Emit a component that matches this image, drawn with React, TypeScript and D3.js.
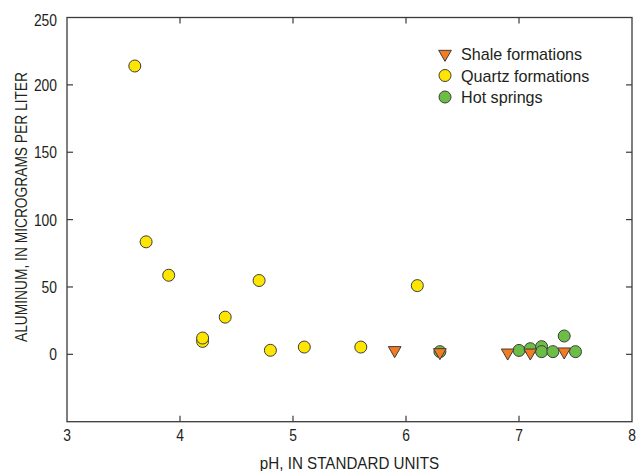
import React from 'react';
import * as d3 from 'd3';

const shalePH = [5.9, 6.3, 6.9, 7.1, 7.4];
const shaleAl = [3, 1.5, 1.2, 1.2, 2];
const quartzPH = [3.6, 3.7, 3.9, 4.2, 4.2, 4.4, 4.7, 4.8, 5.1, 5.6, 6.1];
const quartzAl = [214, 83.5, 58.7, 9.6, 12.1, 27.6, 54.8, 3, 5.4, 5.4, 51];
const hotPH = [6.3, 7.0, 7.1, 7.2, 7.2, 7.3, 7.4, 7.5];
const hotAl = [2, 2.9, 4.2, 5.7, 2, 2, 13.6, 2];
const xTicks = [3, 4, 5, 6, 7, 8];
const yTicks = [0, 50, 100, 150, 200, 250];
const legendLabels = ['Shale formations', 'Quartz formations', 'Hot springs'];

const W = 640, H = 471;
const L = 67, R = 632, T = 17.5, B = 421.7;
const FONT = "'Liberation Sans', Arial, sans-serif";
const TXT = '#231f20';
const AX = '#3a3a3a';
const YELLOW = '#ffe600';
const GREEN = '#6cbd45';
const ORANGE = '#f47b20';
const MSTROKE = '#3d3d3d';

function Txt(props: { x: number; y: number; sx: number; size: number; anchor?: string; rotate?: number; dy?: string; children: React.ReactNode }) {
  const { x, y, sx, size, anchor, rotate, dy, children } = props;
  return (
    <text
      transform={`translate(${x},${y}) rotate(${rotate || 0}) scale(${sx},1)`}
      textAnchor={anchor || 'start'}
      fontSize={size}
      dy={dy}
      fill={TXT}
    >
      {children}
    </text>
  );
}

export default function App() {
  const x = d3.scaleLinear().domain([3, 8]).range([L, R]);
  const y = d3.scaleLinear().domain([-50, 250]).range([B, T]);
  const tri = d3.symbol().type(d3.symbolTriangle).size(70)() as string;
  const tick = 6;

  const hot = hotPH.map((p, i) => ({ p, a: hotAl[i] }));
  const quartz = quartzPH.map((p, i) => ({ p, a: quartzAl[i] }));
  const shale = shalePH.map((p, i) => ({ p, a: shaleAl[i] }));

  return (
    <svg width={W} height={H} style={{ position: 'absolute', left: 0, top: 0, background: '#fff' }} fontFamily={FONT}>
      <rect x={0} y={0} width={W} height={H} fill="#fff" />
      {xTicks.slice(1, -1).map((t) => (
        <g key={'xt' + t}>
          <line x1={x(t)} x2={x(t)} y1={B} y2={B - tick} stroke={AX} strokeWidth={1.2} />
          <line x1={x(t)} x2={x(t)} y1={T} y2={T + tick} stroke={AX} strokeWidth={1.2} />
        </g>
      ))}
      {yTicks.slice(0, -1).map((t) => (
        <g key={'yt' + t}>
          <line x1={L} x2={L + tick} y1={y(t)} y2={y(t)} stroke={AX} strokeWidth={1.2} />
          <line x1={R} x2={R - tick} y1={y(t)} y2={y(t)} stroke={AX} strokeWidth={1.2} />
        </g>
      ))}
      <rect x={L} y={T} width={R - L} height={B - T} fill="none" stroke={AX} strokeWidth={1.3} />
      {xTicks.map((t) => (
        <Txt key={'xl' + t} x={x(t)} y={441} sx={0.84} size={16.5} anchor="middle">{t}</Txt>
      ))}
      {yTicks.map((t) => (
        <Txt key={'yl' + t} x={57} y={t === 250 ? y(t) + 3 : y(t)} sx={0.84} size={16.5} anchor="end" dy="0.36em">{t}</Txt>
      ))}
      <Txt x={(L + R) / 2} y={469} sx={0.92} size={16.5} anchor="middle">pH, IN STANDARD UNITS</Txt>
      <Txt x={27} y={207} sx={0.835} size={16.5} anchor="middle" rotate={-90}>ALUMINUM, IN MICROGRAMS PER LITER</Txt>
      {hot.map((d, i) => (
        <circle key={'h' + i} cx={x(d.p)} cy={y(d.a)} r={6} fill={GREEN} stroke={MSTROKE} strokeWidth={1} />
      ))}
      {quartz.map((d, i) => (
        <circle key={'q' + i} cx={x(d.p)} cy={y(d.a)} r={6} fill={YELLOW} stroke={MSTROKE} strokeWidth={1} />
      ))}
      {shale.map((d, i) => (
        <path key={'s' + i} d={tri} transform={`translate(${x(d.p)},${y(d.a)}) rotate(180)`} fill={ORANGE} stroke={MSTROKE} strokeWidth={1} />
      ))}
      <g>
        <path d={tri} transform={`translate(445,54) rotate(180)`} fill={ORANGE} stroke={MSTROKE} strokeWidth={1} />
        <circle cx={445} cy={75.5} r={6} fill={YELLOW} stroke={MSTROKE} strokeWidth={1} />
        <circle cx={445} cy={97} r={6} fill={GREEN} stroke={MSTROKE} strokeWidth={1} />
        {legendLabels.map((l, i) => (
          <Txt key={l} x={461} y={54 + i * 21.6} sx={0.95} size={17} dy="0.36em">{l}</Txt>
        ))}
      </g>
    </svg>
  );
}
